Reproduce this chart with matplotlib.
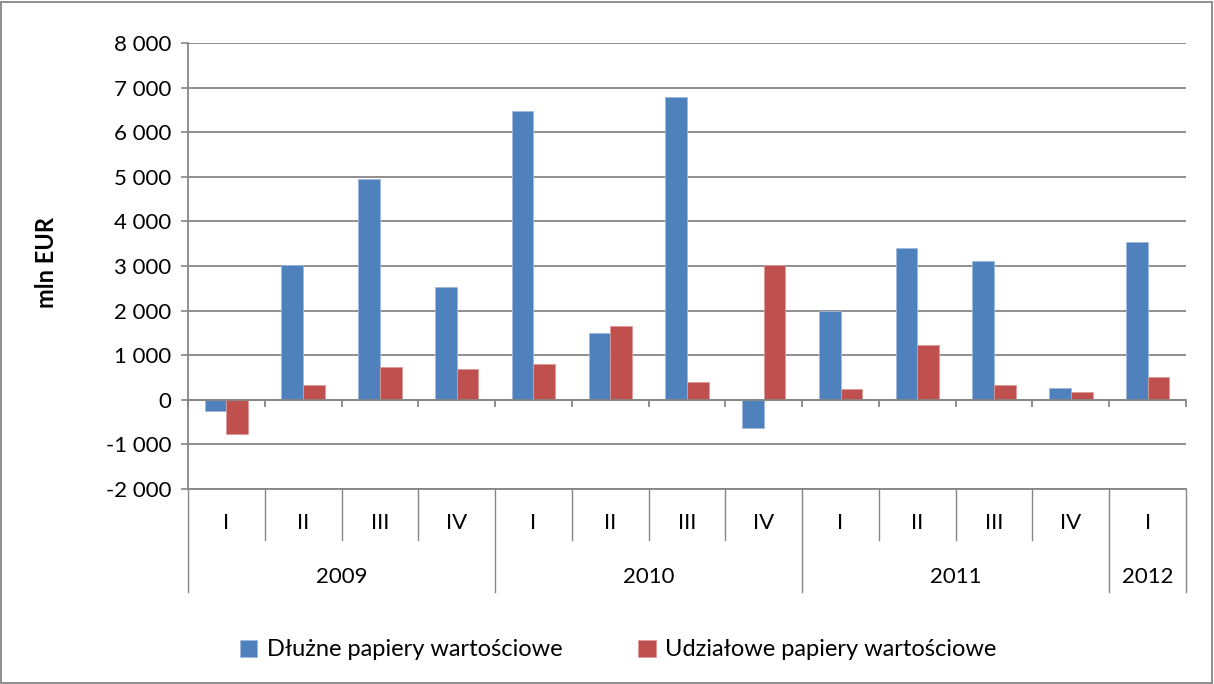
import matplotlib
matplotlib.use("Agg")
import matplotlib.pyplot as plt
import numpy as np
from matplotlib.patches import Rectangle

plt.rcParams['font.family'] = ['Lato', 'DejaVu Sans']

quarters = ["I", "II", "III", "IV", "I", "II", "III", "IV", "I", "II", "III", "IV", "I"]
years = ["2009", "2010", "2011", "2012"]
year_counts = [4, 4, 4, 1]
debt = [-250, 3030, 4950, 2520, 6475, 1490, 6800, -635, 1990, 3395, 3110, 255, 3545]
equity = [-760, 330, 725, 695, 800, 1660, 404, 3030, 240, 1235, 330, 180, 510]
series_names = ["Dłużne papiery wartościowe", "Udziałowe papiery wartościowe"]
colors = ["#4F81BD", "#C0504D"]
ylabel = "mln EUR"

FS = 16
W, H = 1214, 684
fig = plt.figure(figsize=(W / 100, H / 100), dpi=100)
ax = fig.add_axes([188 / W, 1 - 489 / H, (1186 - 188) / W, (489 - 43) / H])

n = len(quarters)
x = np.arange(n)
bw = 0.283
ax.bar(x - bw / 2, debt, bw, color=colors[0], edgecolor="#9DB9DD", linewidth=0.6, label=series_names[0], zorder=3)
ax.bar(x + bw / 2, equity, bw, color=colors[1], edgecolor="#DB9A98", linewidth=0.6, label=series_names[1], zorder=3)

ax.set_xlim(-0.5, n - 0.5)
ax.set_ylim(-2000, 8000)
yt = np.arange(-2000, 8001, 1000)
ax.set_yticks(yt)
ax.set_yticklabels([f"{v:,}".replace(",", " ") for v in yt], fontsize=FS)
ax.tick_params(axis='y', length=5, width=1.2, color="#868686", pad=7)
ax.set_xticks([])
ax.grid(axis='y', color="#868686", linewidth=1.3, zorder=0)
for s in ["top", "right", "bottom"]:
    ax.spines[s].set_visible(False)
ax.spines["left"].set_color("#868686")
ax.spines["left"].set_linewidth(1.3)

gc = "#868686"
# zero axis line and ticks
ax.axhline(0, color=gc, linewidth=1.3, zorder=4)
for b in np.arange(-0.5, n, 1.0):
    ax.plot([b, b], [0, -140], color=gc, linewidth=1.3, zorder=4, clip_on=False)

# category table below
trans = ax.get_xaxis_transform()
ax.plot([-0.5, n - 0.5], [0, 0], transform=trans, color=gc, linewidth=1.3, clip_on=False)
q_bot = -(540 - 489) / 446
y_bot = -(592 - 489) / 446
bounds_year = np.cumsum([0] + year_counts) - 0.5
for b in np.arange(-0.5, n, 1.0):
    is_year = np.any(np.isclose(bounds_year, b))
    ax.plot([b, b], [0, y_bot if is_year else q_bot], transform=trans, color=gc,
            linewidth=1.0, clip_on=False)
for i, q in enumerate(quarters):
    ax.text(i, -(523 - 489) / 446, q, transform=trans, ha='center', va='center', fontsize=FS)
start = 0
for yr, c in zip(years, year_counts):
    ax.text(start + (c - 1) / 2, -(577 - 489) / 446, yr, transform=trans, ha='center', va='center', fontsize=FS)
    start += c

fig.text(47 / W, 1 - 262 / H, ylabel, rotation=90, ha='center', va='center', fontsize=17, fontweight='bold')

fig.legend(loc='center', bbox_to_anchor=(618 / W, 1 - 650 / H), ncol=2, frameon=False,
           fontsize=17, handlelength=0.75, handleheight=0.75, handletextpad=0.4, columnspacing=3.2)

fig.patches.append(Rectangle((1 / W, 1 / H), (W - 3) / W, (H - 3) / H, transform=fig.transFigure,
                             fill=False, edgecolor="#868686", linewidth=1.3))

fig.savefig("out.png", dpi=100)
